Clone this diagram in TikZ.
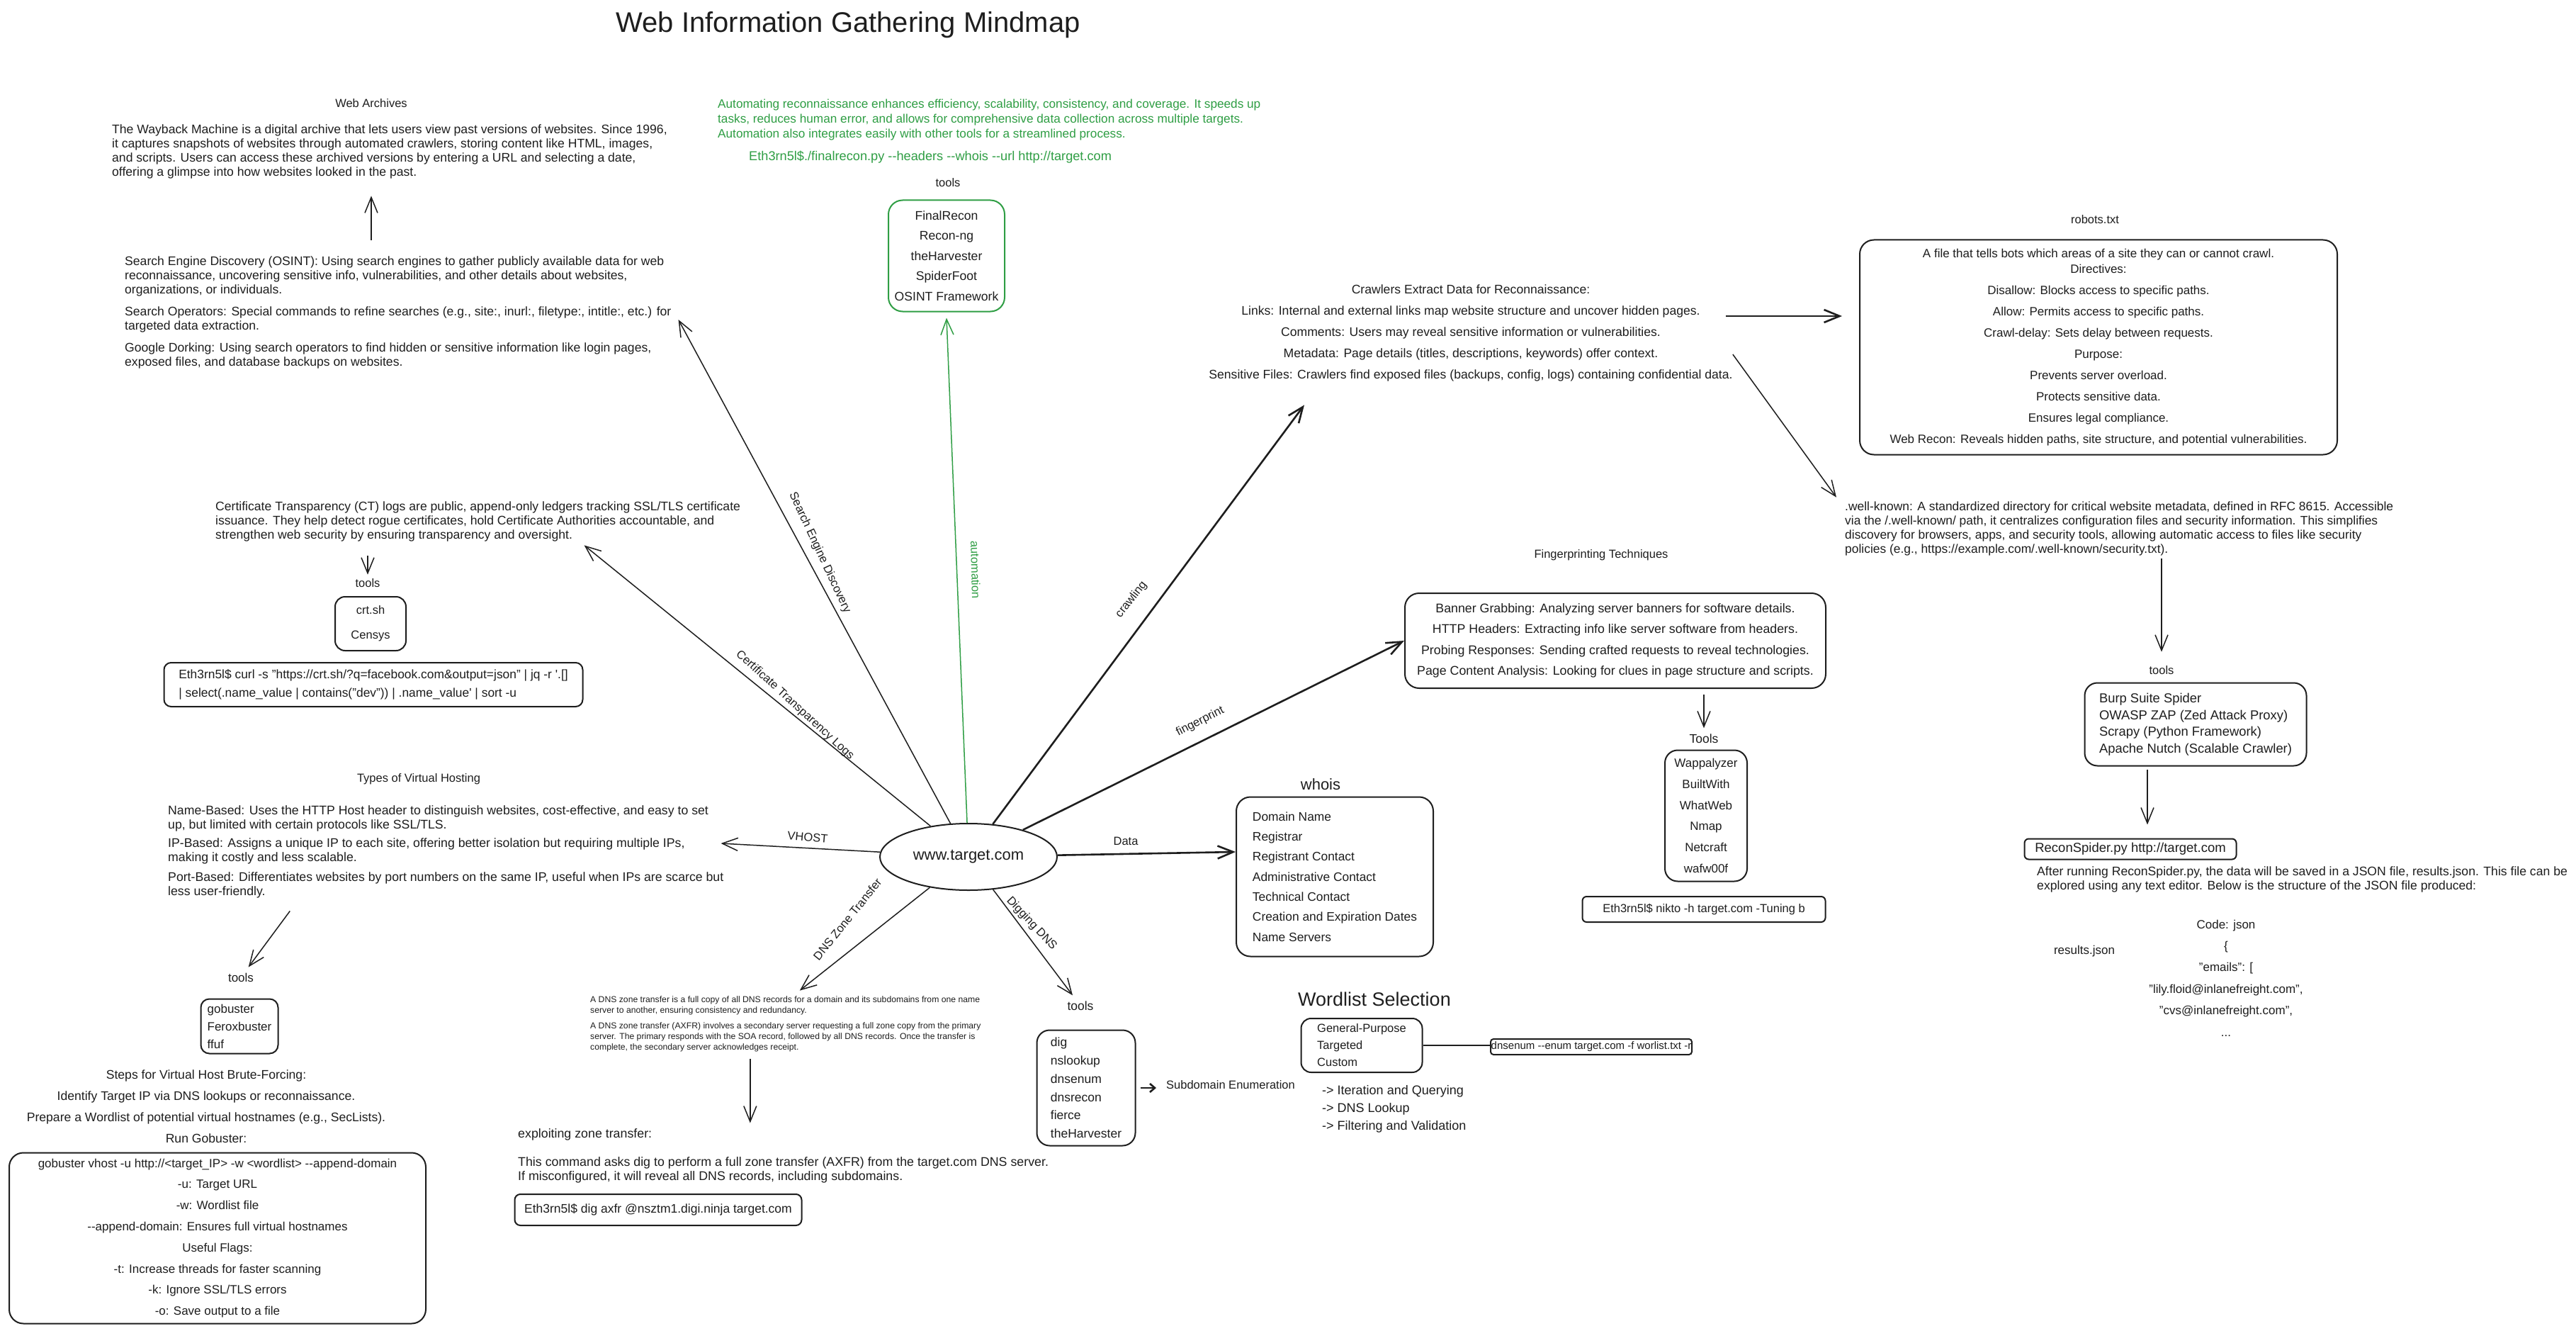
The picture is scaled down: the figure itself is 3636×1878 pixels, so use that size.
\documentclass[tikz,border=0pt]{standalone}
\usepackage{fontspec}
\setmainfont{Liberation Sans}
\usepackage{xcolor}
\usetikzlibrary{shapes,arrows.meta,positioning,calc}
\definecolor{ink}{RGB}{30,30,30}
\definecolor{xgreen}{RGB}{47,158,68}
\newcommand{\fsz}[2]{\fontsize{#1}{#2}\selectfont}

\begin{document}
\begin{tikzpicture}[x=1pt, y=-1pt,
    every node/.style={inner sep=0pt, text=ink},
    txt/.style={font=\fsz{17.6}{20}, align=left},
    ctr/.style={font=\fsz{17}{20}, align=center},
    link/.style={font=\fsz{16.5}{20}},
    block/.style={draw=ink, line width=2pt, rounded corners=14pt},
    cmdbox/.style={draw=ink, line width=2pt, rounded corners=6pt},
    arrow/.style={draw=ink, line width=1.5pt, -{Straight Barb[length=22pt,width=18pt]}},
    thickarrow/.style={arrow, line width=2.6pt}]

    \fill[white] (0,0) rectangle (3636,1878);
    \useasboundingbox (0,0) rectangle (3636,1878);

    \node[font=\fsz{40}{46}] (title) at (1197,35) {Web Information Gathering Mindmap};

    \node[link] (archtitle) at (524,146) {Web Archives};
    \node[txt, anchor=west] (wayback) at (158,214) {The Wayback Machine is a digital archive that lets users view past versions of websites. Since 1996,\\
        it captures snapshots of websites through automated crawlers, storing content like HTML, images,\\
        and scripts. Users can access these archived versions by entering a URL and selecting a date,\\
        offering a glimpse into how websites looked in the past.};
    \node[txt, anchor=west] (sed) at (176,441) {Search Engine Discovery (OSINT): Using search engines to gather publicly available data for web\\
        reconnaissance, uncovering sensitive info, vulnerabilities, and other details about websites,\\
        organizations, or individuals.\\[11pt]
        Search Operators: Special commands to refine searches (e.g., site:, inurl:, filetype:, intitle:, etc.) for\\
        targeted data extraction.\\[11pt]
        Google Dorking: Using search operators to find hidden or sensitive information like login pages,\\
        exposed files, and database backups on websites.};

    \node[txt, anchor=west] (ct) at (304,736) {Certificate Transparency (CT) logs are public, append-only ledgers tracking SSL/TLS certificate\\
        issuance. They help detect rogue certificates, hold Certificate Authorities accountable, and\\
        strengthen web security by ensuring transparency and oversight.};
    \node[link] (ctlbl) at (519,823) {tools};
    \node[block, ctr, font=\fsz{16.5}{35}, minimum width=100, minimum height=76] (ctbox) at (523,880) {crt.sh\\Censys};
    \node[cmdbox, txt, font=\fsz{17.4}{26}, minimum width=591, minimum height=62, rounded corners=10pt] (curl) at (527,966) {Eth3rn5l\$ curl -s "https://crt.sh/?q=facebook.com\&output=json" | jq -r \textquotesingle.[]\\
        | select(.name\_value | contains("dev")) | .name\_value\textquotesingle{} | sort -u};

    \node[link] (vhtitle) at (591,1099) {Types of Virtual Hosting};
    \node[txt, font=\fsz{17.7}{20}, anchor=west] (vh) at (237,1202) {Name-Based: Uses the HTTP Host header to distinguish websites, cost-effective, and easy to set\\
        up, but limited with certain protocols like SSL/TLS.\\[6pt]
        IP-Based: Assigns a unique IP to each site, offering better isolation but requiring multiple IPs,\\
        making it costly and less scalable.\\[8pt]
        Port-Based: Differentiates websites by port numbers on the same IP, useful when IPs are scarce but\\
        less user-friendly.};
    \node[link, font=\fsz{17}{20}] (gblbl) at (340,1379) {tools};
    \node[block, txt, font=\fsz{17}{25}, minimum width=109, minimum height=77, rounded corners=12pt] (gbbox) at (338,1448) {gobuster\\Feroxbuster\\ffuf};
    \node[ctr, font=\fsz{17.6}{30}] (steps) at (291,1561) {Steps for Virtual Host Brute-Forcing:\\
        Identify Target IP via DNS lookups or reconnaissance.\\
        Prepare a Wordlist of potential virtual hostnames (e.g., SecLists).\\
        Run Gobuster:};
    \node[block, ctr, font=\fsz{17}{29.8}, minimum width=588, minimum height=241, rounded corners=20pt] (gobox) at (307,1747) {gobuster vhost -u http://<target\_IP> -w <wordlist> -{}-append-domain\\
        -u: Target URL\\-w: Wordlist file\\-{}-append-domain: Ensures full virtual hostnames\\Useful Flags:\\
        -t: Increase threads for faster scanning\\-k: Ignore SSL/TLS errors\\-o: Save output to a file};

    \node[draw=ink, ellipse, line width=2pt, minimum width=250, minimum height=94, font=\fsz{22}{26}] (target) at (1367,1209) {www.target.com};

    \node[txt, text=xgreen, anchor=west, font=\fsz{17.2}{21}] (autotext) at (1013,169) {Automating reconnaissance enhances efficiency, scalability, consistency, and coverage. It speeds up\\
        tasks, reduces human error, and allows for comprehensive data collection across multiple targets.\\
        Automation also integrates easily with other tools for a streamlined process.};
    \node[txt, text=xgreen, anchor=west, font=\fsz{18.2}{21}] (autocmd) at (1057,222) {Eth3rn5l\$./finalrecon.py -{}-headers -{}-whois -{}-url http://target.com};
    \node[link] (autolbl) at (1338,258) {tools};
    \node[block, draw=xgreen, ctr, font=\fsz{17.6}{28.5}, minimum width=164, minimum height=157, rounded corners=20pt] (autobox) at (1336,361) {FinalRecon\\Recon-ng\\theHarvester\\SpiderFoot\\OSINT Framework};

    \node[ctr, font=\fsz{17.6}{30}] (crawl) at (2076,470) {Crawlers Extract Data for Reconnaissance:\\
        Links: Internal and external links map website structure and uncover hidden pages.\\
        Comments: Users may reveal sensitive information or vulnerabilities.\\
        Metadata: Page details (titles, descriptions, keywords) offer context.\\
        Sensitive Files: Crawlers find exposed files (backups, config, logs) containing confidential data.};

    \node[link] (robotstitle) at (2957,310) {robots.txt};
    \node[block, ctr, font=\fsz{17}{22}, minimum width=674, minimum height=303, rounded corners=20pt] (robots) at (2962,490) {A file that tells bots which areas of a site they can or cannot crawl.\\
        Directives:\\[8pt]Disallow: Blocks access to specific paths.\\[8pt]Allow: Permits access to specific paths.\\[8pt]
        Crawl-delay: Sets delay between requests.\\[8pt]Purpose:\\[8pt]Prevents server overload.\\[8pt]
        Protects sensitive data.\\[8pt]Ensures legal compliance.\\[8pt]
        Web Recon: Reveals hidden paths, site structure, and potential vulnerabilities.};

    \node[txt, font=\fsz{17.4}{20}, anchor=west] (wellknown) at (2604,746) {.well-known: A standardized directory for critical website metadata, defined in RFC 8615. Accessible\\
        via the /.well-known/ path, it centralizes configuration files and security information. This simplifies\\
        discovery for browsers, apps, and security tools, allowing automatic access to files like security\\
        policies (e.g., https://example.com/.well-known/security.txt).};
    \node[link] (wtlbl) at (3051,946) {tools};
    \node[block, txt, font=\fsz{18.4}{23.5}, minimum width=313, minimum height=117, rounded corners=18pt] (wtools) at (3099,1022) {Burp Suite Spider\\OWASP ZAP (Zed Attack Proxy)\\Scrapy (Python Framework)\\Apache Nutch (Scalable Crawler)};
    \node[cmdbox, txt, font=\fsz{18.5}{20}, minimum width=299, minimum height=29] (recon) at (3007,1198) {ReconSpider.py http://target.com};
    \node[txt, font=\fsz{17.6}{19.5}, anchor=west] (after) at (2875,1241) {After running ReconSpider.py, the data will be saved in a JSON file, results.json. This file can be\\
        explored using any text editor. Below is the structure of the JSON file produced:};
    \node[link, font=\fsz{17}{20}] (resjson) at (2942,1342) {results.json};
    \node[ctr, font=\fsz{17}{30.4}] (json) at (3142,1380) {Code: json\\\{\\"emails": [\\"lily.floid@inlanefreight.com",\\"cvs@inlanefreight.com",\\...};

    \node[link] (fptitle) at (2260,783) {Fingerprinting Techniques};
    \node[block, ctr, font=\fsz{17.8}{29.3}, minimum width=594, minimum height=134, rounded corners=20pt] (fpbox) at (2280,904) {Banner Grabbing: Analyzing server banners for software details.\\
        HTTP Headers: Extracting info like server software from headers.\\
        Probing Responses: Sending crafted requests to reveal technologies.\\
        Page Content Analysis: Looking for clues in page structure and scripts.};
    \node[link, font=\fsz{17.5}{20}] (fptlbl) at (2405,1042) {Tools};
    \node[block, ctr, font=\fsz{17}{29.8}, minimum width=116, minimum height=185, rounded corners=18pt] (fptools) at (2408,1151) {Wappalyzer\\BuiltWith\\WhatWeb\\Nmap\\Netcraft\\wafw00f};
    \node[cmdbox, txt, font=\fsz{16.5}{20}, minimum width=343, minimum height=36] (nikto) at (2405,1283) {Eth3rn5l\$ nikto -h target.com -Tuning b};

    \node[font=\fsz{22}{26}] (whoistitle) at (1864,1107) {whois};
    \node[block, txt, font=\fsz{17.4}{28.3}, minimum width=278, minimum height=225, rounded corners=20pt] (whoisbox) at (1884,1237) {Domain Name\\Registrar\\Registrant Contact\\Administrative Contact\\Technical Contact\\Creation and Expiration Dates\\Name Servers};

    \node[txt, font=\fsz{12.2}{15}, anchor=west] (dnsz) at (833,1445) {A DNS zone transfer is a full copy of all DNS records for a domain and its subdomains from one name\\
        server to another, ensuring consistency and redundancy.\\[7pt]
        A DNS zone transfer (AXFR) involves a secondary server requesting a full zone copy from the primary\\
        server. The primary responds with the SOA record, followed by all DNS records. Once the transfer is\\
        complete, the secondary server acknowledges receipt.};
    \node[txt, font=\fsz{17.8}{20}, anchor=west] (exploit) at (731,1601) {exploiting zone transfer:};
    \node[txt, font=\fsz{17.8}{19.5}, anchor=west] (digdesc) at (731,1651) {This command asks dig to perform a full zone transfer (AXFR) from the target.com DNS server.\\
        If misconfigured, it will reveal all DNS records, including subdomains.};
    \node[cmdbox, txt, font=\fsz{17.5}{20}, minimum width=405, minimum height=44, rounded corners=8pt] (digcmd) at (929,1707) {Eth3rn5l\$ dig axfr @nsztm1.digi.ninja target.com};
    \node[link, font=\fsz{17.5}{20}] (diglbl) at (1525,1419) {tools};
    \node[block, txt, font=\fsz{17.5}{25.8}, minimum width=139, minimum height=163, rounded corners=18pt] (digbox) at (1533,1535) {dig\\nslookup\\dnsenum\\dnsrecon\\fierce\\theHarvester};
    \node[txt, font=\fsz{16.5}{20}, anchor=west] (subenum) at (1646,1531) {Subdomain Enumeration};

    \node[font=\fsz{27}{30}] (wltitle) at (1940,1410) {Wordlist Selection};
    \node[block, txt, font=\fsz{16.5}{24}, minimum width=171, minimum height=76, rounded corners=14pt] (wlbox) at (1922,1475) {General-Purpose\\Targeted\\Custom};
    \node[cmdbox, txt, font=\fsz{15}{18}, minimum width=284, minimum height=22, rounded corners=4pt] (enumcmd) at (2246,1477) {dnsenum -{}-enum target.com -f worlist.txt -r};
    \node[txt, font=\fsz{18}{25}, anchor=west] (wlsteps) at (1866,1565) {-> Iteration and Querying\\-> DNS Lookup\\-> Filtering and Validation};

    \node[link, rotate=-65] (lsed) at (1157,780) {Search Engine Discovery};
    \node[link, rotate=-42.5] (lct) at (1122,995) {Certificate Transparency Logs};
    \node[link, rotate=-88.5, text=xgreen] (lauto) at (1377,804) {automation};
    \node[link, rotate=52] (lcrawl) at (1597,846) {crawling};
    \node[link, rotate=27] (lfp) at (1694,1018) {fingerprint};
    \node[link, rotate=-5] (lvhost) at (1140,1181) {VHOST};
    \node[link] (ldata) at (1589,1187) {Data};
    \node[link, rotate=51] (ldns) at (1196,1297) {DNS Zone Transfer};
    \node[link, rotate=-47] (ldig) at (1456,1303) {Digging DNS};

    \draw[arrow] (target) -- ([xshift=10pt,yshift=-10pt]sed.east);
    \draw[arrow, shorten <=23pt, shorten >=24pt] (sed.north -| archtitle) -- (wayback.south -| archtitle);
    \draw[arrow, draw=xgreen] (target) -- ([yshift=-8pt]autobox.south);
    \draw[thickarrow] (target) -- ([xshift=-235pt,yshift=-33pt]crawl.south);
    \draw[thickarrow, shorten >=24pt] ([xshift=-10pt,yshift=24pt]crawl.east) -- ([yshift=24pt]crawl.east -| robots.west);
    \draw[arrow] ([yshift=-30pt]crawl.east) -- ([xshift=-12pt,yshift=6pt]wellknown.north west);
    \draw[arrow, shorten <=4pt, shorten >=20pt] (wellknown.south -| wtlbl) -- (wtlbl);
    \draw[arrow, shorten <=4pt, shorten >=19pt] ([xshift=-68pt]wtools.south) -- ([xshift=-68pt]wtools.south |- recon.north);
    \draw[arrow] (target) -- ([xshift=150pt,yshift=-5pt]ct.south);
    \draw[arrow, shorten <=20pt, shorten >=6pt] (ct.south -| ctlbl) -- (ctlbl);
    \draw[arrow] (target) -- ([xshift=-4pt,yshift=12pt]vh.east);
    \draw[arrow, shorten >=10pt] ([xshift=-220pt,yshift=-18pt]vh.south) -- (gblbl);
    \draw[arrow] (target) -- ([xshift=20pt,yshift=8pt]dnsz.north);
    \draw[arrow, shorten <=10pt, shorten >=8pt] ([xshift=-50pt]dnsz.south) -- ([xshift=-50pt]dnsz.south |- exploit.north);
    \draw[arrow, shorten >=10pt] (target) -- (diglbl);
    \draw[thickarrow, -{Straight Barb[length=7pt,width=12pt]}, shorten <=6pt, shorten >=14pt] (digbox.east) -- (digbox.east -| subenum.west);
    \draw[draw=ink, line width=2.5pt] (wlbox.east) -- (wlbox.east -| enumcmd.west);
    \draw[thickarrow] (target) -- (fpbox.west);
    \draw[arrow, shorten <=8pt, shorten >=8pt] (fpbox.south -| fptlbl) -- (fptlbl);
    \draw[thickarrow] (target) -- ([yshift=35pt]whoisbox.west);
\end{tikzpicture}
\end{document}
